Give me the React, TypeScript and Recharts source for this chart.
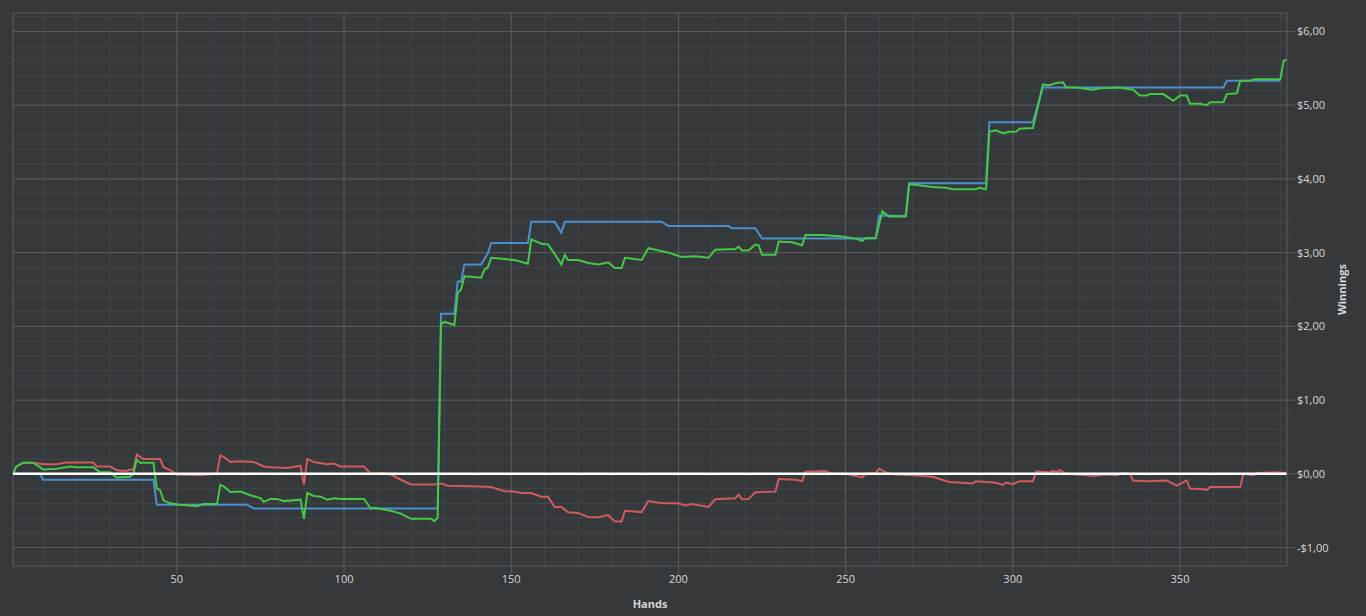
import React from 'react';
import { LineChart, Line, XAxis, YAxis, CartesianGrid, ReferenceLine } from 'recharts';

// [hand, winnings] pairs
const netWinnings: [number, number][] = [
  [1, 0], [2, 0.1], [4, 0.15], [7, 0.15], [10, 0.06], [14, 0.07], [18, 0.1], [20, 0.09], [25, 0.09],
  [27, 0.02], [30, 0.02], [32, -0.05], [36, -0.04], [37, 0], [38, 0.19], [39, 0.15], [43, 0.15],
  [44, -0.2], [45, -0.22], [46, -0.36], [48, -0.4], [51, -0.42], [56, -0.44], [58, -0.41], [62, -0.41],
  [63, -0.15], [64, -0.17], [66, -0.245], [69, -0.24], [72, -0.29], [75, -0.33], [76, -0.38], [78, -0.34],
  [80, -0.34], [82, -0.37], [87, -0.35], [88, -0.61], [89, -0.26], [91, -0.3], [93, -0.31], [95, -0.35],
  [97, -0.33], [99, -0.34], [106, -0.34], [108, -0.47], [109, -0.46], [114, -0.5], [117, -0.54],
  [120, -0.61], [126, -0.61], [127, -0.64], [128, -0.6], [129, 2.03], [130, 2.06], [133, 2.02],
  [134, 2.45], [135, 2.5], [136, 2.68], [141, 2.66], [142, 2.77], [143, 2.8], [144, 2.93], [151, 2.9],
  [155, 2.85], [156, 3.18], [159, 3.12], [161, 3.11], [163, 2.98], [165, 2.84], [166, 2.97], [167, 2.9],
  [170, 2.9], [173, 2.86], [176, 2.84], [179, 2.87], [181, 2.79], [183, 2.79], [184, 2.93], [189, 2.9],
  [191, 3.06], [197, 3.0], [201, 2.94], [205, 2.95], [209, 2.93], [211, 3.04], [217, 3.05], [218, 3.08],
  [219, 3.03], [221, 3.03], [222, 3.07], [223, 3.11], [224, 3.1], [225, 2.97], [229, 2.97], [230, 3.15],
  [234, 3.14], [237, 3.1], [238, 3.24], [243, 3.24], [249, 3.22], [253, 3.19], [255, 3.16], [256, 3.2],
  [259, 3.2], [261, 3.56], [263, 3.49], [268, 3.49], [269, 3.93], [276, 3.89], [280, 3.88], [282, 3.86],
  [289, 3.86], [290, 3.88], [292, 3.86], [293, 4.64], [295, 4.66], [297, 4.62], [299, 4.64], [301, 4.64],
  [302, 4.68], [306, 4.69], [309, 5.28], [311, 5.27], [313, 5.3], [315, 5.31], [316, 5.24], [319, 5.24],
  [324, 5.21], [326, 5.23], [332, 5.24], [336, 5.21], [338, 5.13], [340, 5.13], [341, 5.15], [345, 5.15],
  [348, 5.06], [350, 5.13], [352, 5.13], [353, 5.02], [356, 5.02], [358, 5.0], [359, 5.04], [363, 5.04],
  [364, 5.15], [367, 5.16], [368, 5.33], [371, 5.33], [372, 5.35], [374, 5.35], [380, 5.35], [381, 5.6],
  [382, 5.62],
];

const showdownWinnings: [number, number][] = [
  [1, 0], [9, 0], [10, -0.08], [43, -0.08], [44, -0.42], [71, -0.42], [73, -0.47], [128, -0.47],
  [129, 2.17], [133, 2.17], [134, 2.61], [135, 2.61], [136, 2.84], [141, 2.84], [143, 2.99], [144, 3.13],
  [155, 3.13], [156, 3.42], [163, 3.42], [165, 3.27], [166, 3.42], [195, 3.42], [197, 3.36], [215, 3.36],
  [216, 3.33], [223, 3.33], [225, 3.19], [259, 3.19], [260, 3.5], [268, 3.5], [269, 3.94], [292, 3.94],
  [293, 4.77], [306, 4.77], [309, 5.24], [363, 5.24], [364, 5.33], [380, 5.33],
];

const nonShowdownWinnings: [number, number][] = [
  [1, 0], [2, 0.1], [4, 0.15], [7, 0.15], [10, 0.13], [14, 0.13], [17, 0.155], [25, 0.155], [26, 0.1],
  [30, 0.1], [32, 0.05], [35, 0.04], [36, 0.06], [37, 0.06], [38, 0.26], [40, 0.2], [45, 0.2], [46, 0.09],
  [48, 0.05], [50, -0.01], [57, -0.02], [61, 0], [62, 0.01], [63, 0.25], [64, 0.23], [66, 0.16], [69, 0.17],
  [73, 0.16], [76, 0.1], [78, 0.09], [83, 0.08], [87, 0.11], [88, -0.15], [89, 0.2], [91, 0.16], [95, 0.13],
  [97, 0.14], [99, 0.1], [106, 0.1], [108, 0], [112, 0.01], [114, -0.01], [117, -0.08], [120, -0.145],
  [127, -0.145], [129, -0.13], [131, -0.16], [138, -0.17], [144, -0.18], [148, -0.235], [151, -0.24],
  [153, -0.26], [156, -0.26], [159, -0.31], [161, -0.31], [163, -0.45], [165, -0.45], [167, -0.52],
  [170, -0.53], [173, -0.585], [176, -0.59], [179, -0.56], [181, -0.645], [183, -0.645], [184, -0.5],
  [187, -0.51], [189, -0.52], [191, -0.37], [195, -0.4], [200, -0.4], [202, -0.43], [204, -0.41],
  [209, -0.45], [211, -0.345], [217, -0.33], [218, -0.28], [219, -0.345], [221, -0.34], [223, -0.25],
  [229, -0.24], [230, -0.07], [235, -0.08], [237, -0.1], [238, 0.03], [244, 0.04], [246, 0], [250, 0],
  [253, -0.03], [255, -0.05], [256, 0], [259, 0.01], [260, 0.07], [262, 0.02], [265, -0.01], [270, -0.02],
  [276, -0.04], [281, -0.11], [288, -0.13], [289, -0.1], [295, -0.12], [297, -0.15], [298, -0.12],
  [300, -0.14], [302, -0.1], [306, -0.1], [307, 0.03], [311, 0.02], [312, 0.04], [313, 0.03], [314, 0.05],
  [316, 0], [322, -0.02], [324, -0.03], [328, -0.01], [331, -0.02], [333, 0.01], [335, 0], [336, -0.09],
  [340, -0.1], [346, -0.09], [349, -0.16], [352, -0.09], [353, -0.2], [357, -0.21], [358, -0.22],
  [359, -0.18], [368, -0.18], [369, 0], [372, -0.02], [373, 0.01], [378, 0.02], [382, 0.01],
];

const handTicks = [50, 100, 150, 200, 250, 300, 350];
const handMinorTicks = [10, 20, 30, 40, 60, 70, 80, 90, 110, 120, 130, 140, 160, 170, 180, 190, 210, 220, 230, 240, 260, 270, 280, 290, 310, 320, 330, 340, 360, 370, 380];
const winTicks = [-1, 0, 1, 2, 3, 4, 5, 6];
const winMinorTicks = [-1.2, -0.8, -0.6, -0.4, -0.2, 0.2, 0.4, 0.6, 0.8, 1.2, 1.4, 1.6, 1.8, 2.2, 2.4, 2.6, 2.8, 3.2, 3.4, 3.6, 3.8, 4.2, 4.4, 4.6, 4.8, 5.2, 5.4, 5.6, 5.8, 6.2];

const BG = '#36393c';
const MAJOR = '#5b5e61';
const MINOR = '#434649';
const TEXT = '#d6d6d6';

const rows = (pts: [number, number][]) => pts.map(([hand, v]) => ({ hand, v }));

const money = (v: number) => `${v < 0 ? '-' : ''}$${Math.abs(v).toFixed(2).replace('.', ',')}`;

const XTick = (props: any) => {
  const { x, y, payload } = props;
  const major = payload.value % 50 === 0;
  return (
    <g>
      <line x1={x} x2={x} y1={y} y2={y + (major ? 8 : 5)} stroke={major ? MAJOR : MINOR} />
      {major && (
        <text x={x} y={y + 17} textAnchor="middle" fill={TEXT} fontSize={11}>
          {payload.value}
        </text>
      )}
    </g>
  );
};

const YTick = (props: any) => {
  const { x, y, payload } = props;
  const major = Math.abs(payload.value - Math.round(payload.value)) < 1e-6;
  return (
    <g>
      <line x1={x} x2={x + (major ? 8 : 5)} y1={y} y2={y} stroke={major ? MAJOR : MINOR} />
      {major && (
        <text x={x + 10} y={y + 4} textAnchor="start" fill={TEXT} fontSize={11}>
          {money(payload.value)}
        </text>
      )}
    </g>
  );
};

export default function App() {
  return (
    <div style={{ position: 'fixed', left: 0, top: 0, width: 1366, height: 616, background: BG, fontFamily: '"Open Sans", sans-serif' }}>
      <LineChart width={1366} height={616} margin={{ top: 13, left: 13, right: 0, bottom: 0 }}>
        <CartesianGrid
          stroke={MINOR}
          horizontalValues={winMinorTicks}
          verticalValues={handMinorTicks}
        />
        <CartesianGrid
          stroke={MAJOR}
          horizontalValues={[...winTicks, 6.25]}
          verticalValues={[1, ...handTicks]}
        />
        <XAxis
          dataKey="hand"
          type="number"
          domain={[1, 382]}
          ticks={[...handMinorTicks, ...handTicks].sort((a, b) => a - b)}
          interval={0}
          height={50}
          tickSize={0}
          tickMargin={0}
          tickLine={false}
          axisLine={{ stroke: MAJOR }}
          tick={<XTick />}
          allowDataOverflow
          label={{ value: 'Hands', position: 'insideBottom', offset: 8, fill: TEXT, fontSize: 11, fontWeight: 'bold' }}
        />
        <YAxis
          orientation="right"
          type="number"
          domain={[-1.25, 6.25]}
          ticks={[...winMinorTicks, ...winTicks].sort((a, b) => a - b)}
          interval={0}
          width={79}
          tickSize={0}
          tickMargin={0}
          tickLine={false}
          axisLine={{ stroke: MAJOR }}
          tick={<YTick />}
          allowDataOverflow
          label={{ value: 'Winnings', angle: -90, position: 'center', dx: 16, fill: TEXT, fontSize: 11, fontWeight: 'bold' }}
        />
        <Line data={rows(nonShowdownWinnings)} dataKey="v" type="linear" stroke="#d25a5a" strokeWidth={2} dot={false} activeDot={false} isAnimationActive={false} />
        <Line data={rows(showdownWinnings)} dataKey="v" type="linear" stroke="#4a8fd0" strokeWidth={2} dot={false} activeDot={false} isAnimationActive={false} />
        <Line data={rows(netWinnings)} dataKey="v" type="linear" stroke="#45c845" strokeWidth={2} dot={false} activeDot={false} isAnimationActive={false} />
        <ReferenceLine y={0} stroke="#ffffff" strokeWidth={2.5} />
      </LineChart>
    </div>
  );
}
